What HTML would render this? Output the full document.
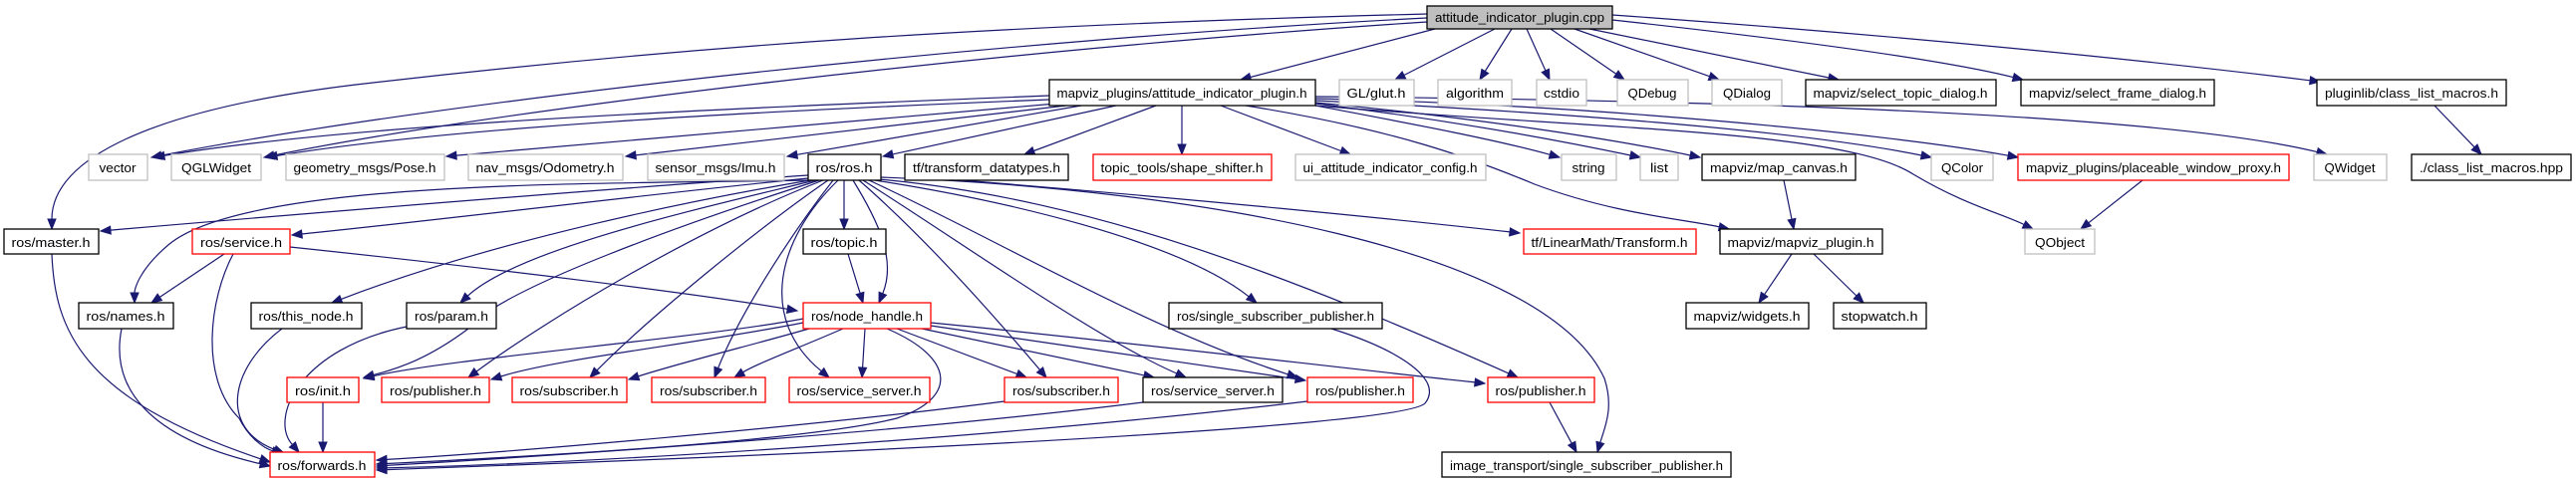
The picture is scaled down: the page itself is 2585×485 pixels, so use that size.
<!DOCTYPE html>
<html><head><meta charset="utf-8">
<style>
html,body{margin:0;padding:0;background:#fff;}
svg{display:block;}
text{font-family:"Liberation Sans",Arial,sans-serif;font-size:13px;fill:#000;}
</style></head>
<body>
<svg id="g" width="2585" height="485" viewBox="0 0 2585 485" xmlns="http://www.w3.org/2000/svg">
<g id="edges"></g>
<g id="nodes" stroke-width="1.3">
<!-- row0 -->
<rect x="1432" y="6" width="186" height="23" fill="#bfbfbf" stroke="#000"/><text x="1525" y="22" text-anchor="middle" textLength="170" lengthAdjust="spacingAndGlyphs">attitude_indicator_plugin.cpp</text>
<!-- row1 -->
<rect x="1053" y="80" width="267" height="26" fill="#fff" stroke="#000"/><text x="1186" y="98" text-anchor="middle" textLength="251" lengthAdjust="spacingAndGlyphs">mapviz_plugins/attitude_indicator_plugin.h</text>
<rect x="1344" y="80" width="75" height="26" fill="#fff" stroke="#bfbfbf"/><text x="1381" y="98" text-anchor="middle" textLength="59" lengthAdjust="spacingAndGlyphs">GL/glut.h</text>
<rect x="1443" y="80" width="74" height="26" fill="#fff" stroke="#bfbfbf"/><text x="1480" y="98" text-anchor="middle" textLength="58" lengthAdjust="spacingAndGlyphs">algorithm</text>
<rect x="1542" y="80" width="50" height="26" fill="#fff" stroke="#bfbfbf"/><text x="1567" y="98" text-anchor="middle" textLength="36" lengthAdjust="spacingAndGlyphs">cstdio</text>
<rect x="1623" y="80" width="71" height="26" fill="#fff" stroke="#bfbfbf"/><text x="1658" y="98" text-anchor="middle" textLength="49" lengthAdjust="spacingAndGlyphs">QDebug</text>
<rect x="1718" y="80" width="70" height="26" fill="#fff" stroke="#bfbfbf"/><text x="1753" y="98" text-anchor="middle" textLength="48" lengthAdjust="spacingAndGlyphs">QDialog</text>
<rect x="1812" y="80" width="191" height="26" fill="#fff" stroke="#000"/><text x="1907" y="98" text-anchor="middle" textLength="175" lengthAdjust="spacingAndGlyphs">mapviz/select_topic_dialog.h</text>
<rect x="2028" y="80" width="194" height="26" fill="#fff" stroke="#000"/><text x="2125" y="98" text-anchor="middle" textLength="178" lengthAdjust="spacingAndGlyphs">mapviz/select_frame_dialog.h</text>
<rect x="2325" y="80" width="190" height="26" fill="#fff" stroke="#000"/><text x="2420" y="98" text-anchor="middle" textLength="174" lengthAdjust="spacingAndGlyphs">pluginlib/class_list_macros.h</text>
<!-- row2 -->
<rect x="89" y="155" width="59" height="26" fill="#fff" stroke="#bfbfbf"/><text x="118" y="173" text-anchor="middle" textLength="37" lengthAdjust="spacingAndGlyphs">vector</text>
<rect x="172" y="155" width="90" height="26" fill="#fff" stroke="#bfbfbf"/><text x="217" y="173" text-anchor="middle" textLength="70" lengthAdjust="spacingAndGlyphs">QGLWidget</text>
<rect x="287" y="155" width="159" height="26" fill="#fff" stroke="#bfbfbf"/><text x="366" y="173" text-anchor="middle" textLength="143" lengthAdjust="spacingAndGlyphs">geometry_msgs/Pose.h</text>
<rect x="470" y="155" width="155" height="26" fill="#fff" stroke="#bfbfbf"/><text x="547" y="173" text-anchor="middle" textLength="139" lengthAdjust="spacingAndGlyphs">nav_msgs/Odometry.h</text>
<rect x="650" y="155" width="137" height="26" fill="#fff" stroke="#bfbfbf"/><text x="718" y="173" text-anchor="middle" textLength="121" lengthAdjust="spacingAndGlyphs">sensor_msgs/Imu.h</text>
<rect x="811" y="155" width="73" height="26" fill="#fff" stroke="#000"/><text x="847" y="173" text-anchor="middle" textLength="57" lengthAdjust="spacingAndGlyphs">ros/ros.h</text>
<rect x="908" y="155" width="164" height="26" fill="#fff" stroke="#000"/><text x="990" y="173" text-anchor="middle" textLength="148" lengthAdjust="spacingAndGlyphs">tf/transform_datatypes.h</text>
<rect x="1097" y="155" width="179" height="26" fill="#fff" stroke="#ff0000"/><text x="1186" y="173" text-anchor="middle" textLength="163" lengthAdjust="spacingAndGlyphs">topic_tools/shape_shifter.h</text>
<rect x="1300" y="155" width="191" height="26" fill="#fff" stroke="#bfbfbf"/><text x="1395" y="173" text-anchor="middle" textLength="175" lengthAdjust="spacingAndGlyphs">ui_attitude_indicator_config.h</text>
<rect x="1567" y="155" width="55" height="26" fill="#fff" stroke="#bfbfbf"/><text x="1594" y="173" text-anchor="middle" textLength="33" lengthAdjust="spacingAndGlyphs">string</text>
<rect x="1646" y="155" width="38" height="26" fill="#fff" stroke="#bfbfbf"/><text x="1665" y="173" text-anchor="middle" textLength="18" lengthAdjust="spacingAndGlyphs">list</text>
<rect x="1708" y="155" width="154" height="26" fill="#fff" stroke="#000"/><text x="1785" y="173" text-anchor="middle" textLength="138" lengthAdjust="spacingAndGlyphs">mapviz/map_canvas.h</text>
<rect x="1938" y="155" width="62" height="26" fill="#fff" stroke="#bfbfbf"/><text x="1969" y="173" text-anchor="middle" textLength="42" lengthAdjust="spacingAndGlyphs">QColor</text>
<rect x="2025" y="155" width="272" height="26" fill="#fff" stroke="#ff0000"/><text x="2161" y="173" text-anchor="middle" textLength="256" lengthAdjust="spacingAndGlyphs">mapviz_plugins/placeable_window_proxy.h</text>
<rect x="2322" y="155" width="73" height="26" fill="#fff" stroke="#bfbfbf"/><text x="2358" y="173" text-anchor="middle" textLength="51" lengthAdjust="spacingAndGlyphs">QWidget</text>
<rect x="2420" y="155" width="160" height="26" fill="#fff" stroke="#000"/><text x="2500" y="173" text-anchor="middle" textLength="144" lengthAdjust="spacingAndGlyphs">./class_list_macros.hpp</text>
<!-- row3 -->
<rect x="4" y="230" width="95" height="25" fill="#fff" stroke="#000"/><text x="51" y="248" text-anchor="middle" textLength="79" lengthAdjust="spacingAndGlyphs">ros/master.h</text>
<rect x="193" y="230" width="98" height="25" fill="#fff" stroke="#ff0000"/><text x="242" y="248" text-anchor="middle" textLength="82" lengthAdjust="spacingAndGlyphs">ros/service.h</text>
<rect x="806" y="230" width="83" height="25" fill="#fff" stroke="#000"/><text x="847" y="248" text-anchor="middle" textLength="67" lengthAdjust="spacingAndGlyphs">ros/topic.h</text>
<rect x="1529" y="230" width="173" height="25" fill="#fff" stroke="#ff0000"/><text x="1615" y="248" text-anchor="middle" textLength="157" lengthAdjust="spacingAndGlyphs">tf/LinearMath/Transform.h</text>
<rect x="1726" y="230" width="163" height="25" fill="#fff" stroke="#000"/><text x="1807" y="248" text-anchor="middle" textLength="147" lengthAdjust="spacingAndGlyphs">mapviz/mapviz_plugin.h</text>
<rect x="2032" y="230" width="70" height="25" fill="#fff" stroke="#bfbfbf"/><text x="2067" y="248" text-anchor="middle" textLength="50" lengthAdjust="spacingAndGlyphs">QObject</text>
<!-- row4 -->
<rect x="79" y="304" width="95" height="26" fill="#fff" stroke="#000"/><text x="126" y="322" text-anchor="middle" textLength="79" lengthAdjust="spacingAndGlyphs">ros/names.h</text>
<rect x="252" y="304" width="111" height="26" fill="#fff" stroke="#000"/><text x="307" y="322" text-anchor="middle" textLength="95" lengthAdjust="spacingAndGlyphs">ros/this_node.h</text>
<rect x="408" y="304" width="90" height="26" fill="#fff" stroke="#000"/><text x="453" y="322" text-anchor="middle" textLength="74" lengthAdjust="spacingAndGlyphs">ros/param.h</text>
<rect x="806" y="304" width="128" height="26" fill="#fff" stroke="#ff0000"/><text x="870" y="322" text-anchor="middle" textLength="112" lengthAdjust="spacingAndGlyphs">ros/node_handle.h</text>
<rect x="1173" y="304" width="214" height="26" fill="#fff" stroke="#000"/><text x="1280" y="322" text-anchor="middle" textLength="198" lengthAdjust="spacingAndGlyphs">ros/single_subscriber_publisher.h</text>
<rect x="1692" y="304" width="123" height="26" fill="#fff" stroke="#000"/><text x="1753" y="322" text-anchor="middle" textLength="107" lengthAdjust="spacingAndGlyphs">mapviz/widgets.h</text>
<rect x="1840" y="304" width="93" height="26" fill="#fff" stroke="#000"/><text x="1886" y="322" text-anchor="middle" textLength="77" lengthAdjust="spacingAndGlyphs">stopwatch.h</text>
<!-- row5 -->
<rect x="288" y="379" width="72" height="25" fill="#fff" stroke="#ff0000"/><text x="324" y="397" text-anchor="middle" textLength="56" lengthAdjust="spacingAndGlyphs">ros/init.h</text>
<rect x="383" y="379" width="108" height="25" fill="#fff" stroke="#ff0000"/><text x="437" y="397" text-anchor="middle" textLength="92" lengthAdjust="spacingAndGlyphs">ros/publisher.h</text>
<rect x="514" y="379" width="115" height="25" fill="#fff" stroke="#ff0000"/><text x="571" y="397" text-anchor="middle" textLength="99" lengthAdjust="spacingAndGlyphs">ros/subscriber.h</text>
<rect x="654" y="379" width="114" height="25" fill="#fff" stroke="#ff0000"/><text x="711" y="397" text-anchor="middle" textLength="98" lengthAdjust="spacingAndGlyphs">ros/subscriber.h</text>
<rect x="792" y="379" width="141" height="25" fill="#fff" stroke="#ff0000"/><text x="862" y="397" text-anchor="middle" textLength="125" lengthAdjust="spacingAndGlyphs">ros/service_server.h</text>
<rect x="1008" y="379" width="114" height="25" fill="#fff" stroke="#ff0000"/><text x="1065" y="397" text-anchor="middle" textLength="98" lengthAdjust="spacingAndGlyphs">ros/subscriber.h</text>
<rect x="1147" y="379" width="140" height="25" fill="#fff" stroke="#000"/><text x="1217" y="397" text-anchor="middle" textLength="124" lengthAdjust="spacingAndGlyphs">ros/service_server.h</text>
<rect x="1312" y="379" width="106" height="25" fill="#fff" stroke="#ff0000"/><text x="1365" y="397" text-anchor="middle" textLength="90" lengthAdjust="spacingAndGlyphs">ros/publisher.h</text>
<rect x="1493" y="379" width="107" height="25" fill="#fff" stroke="#ff0000"/><text x="1546" y="397" text-anchor="middle" textLength="91" lengthAdjust="spacingAndGlyphs">ros/publisher.h</text>
<!-- row6 -->
<rect x="271" y="454" width="105" height="25" fill="#fff" stroke="#ff0000"/><text x="323" y="472" text-anchor="middle" textLength="89" lengthAdjust="spacingAndGlyphs">ros/forwards.h</text>
<rect x="1447" y="454" width="290" height="25" fill="#fff" stroke="#000"/><text x="1592" y="472" text-anchor="middle" textLength="274" lengthAdjust="spacingAndGlyphs">image_transport/single_subscriber_publisher.h</text>
</g>
</svg>
<script>
(function(){
var E=[
// from cpp
"M1432,14 C1000,25 700,45 357,85 C150,110 52,160 52,230",
"M1432,18 C1000,40 450,100 152,158",
"M1432,22 C1000,50 500,110 265,158",
[1440,29,1245,80],[1500,29,1400,80],[1517,29,1485,80],[1532,29,1555,80],
[1556,29,1630,80],[1580,29,1725,80],[1595,29,1845,80],
"M1618,20 C1800,40 1950,60 2030,80",
"M1618,15 C1900,35 2150,60 2328,82",
// from mapviz_plugins h
"M1053,96 C700,110 350,125 155,158",
"M1053,100 C750,112 450,128 268,158",
[1060,104,448,157],[1070,106,628,157],[1085,106,790,157],[1120,106,886,157],
[1160,106,1028,155],[1186,106,1186,155],[1225,106,1355,155],
"M1320,106 C1420,125 1500,140 1565,158",
"M1320,104 C1450,120 1560,140 1646,158",
"M1320,103 C1480,118 1620,140 1706,158",
"M1320,101 C1550,112 1800,130 1938,158",
"M1320,99 C1600,105 1900,135 2025,158",
"M1320,97 C1650,100 2150,110 2335,155",
"M1320,106 C1600,130 1850,130 1920,175 C1970,205 2010,215 2040,230",
"M1250,106 C1400,130 1480,160 1540,185 C1620,215 1690,220 1735,230",
// from ros.h
"M811,176 C600,190 300,215 101,232",
"M811,179 C650,195 450,220 293,236",
"M811,181 C600,185 250,180 170,245 C140,270 135,290 135,304",
"M813,181 C700,200 500,240 333,304",
"M818,181 C700,210 520,250 462,304",
"M822,181 C700,220 500,290 470,330 C430,360 400,370 365,379",
"M826,181 C700,230 550,320 470,379",
"M831,181 C760,230 650,320 592,379",
"M836,181 C790,240 740,320 717,379",
"M841,181 C780,240 760,320 832,379",
[847,181,847,230],
"M856,181 C880,220 900,260 882,304",
"M862,181 C930,240 1000,320 1050,379",
"M866,181 C960,240 1100,340 1190,379",
"M872,181 C1000,240 1150,330 1302,379",
"M878,181 C1000,200 1180,240 1261,304",
"M882,180 C1100,200 1300,280 1523,379",
"M884,178 C1200,190 1550,250 1610,380 C1620,410 1610,430 1603,454",
"M965,181 C1200,200 1400,220 1525,234",
// service.h
[225,255,152,304],
"M234,255 C210,300 200,380 240,420 C250,440 265,450 283,456",
"M291,248 C500,270 700,295 800,312",
// to forwards
"M52,255 C55,330 80,400 271,464",
"M122,330 C110,390 150,440 271,468",
"M283,330 C230,370 220,430 285,455",
"M408,328 C300,350 270,420 300,454",
[324,404,324,454],
// topic, node_handle
[851,255,866,304],
"M806,320 C700,340 450,360 365,380",
"M806,324 C700,345 560,360 493,381",
"M812,330 C760,345 680,365 631,381",
"M846,330 C800,350 760,365 737,379",
[868,330,865,379],
[900,330,1030,379],
[925,330,1158,379],
"M934,327 C1050,345 1200,365 1310,382",
"M934,324 C1100,340 1350,370 1490,385",
"M890,330 C960,360 960,400 900,420 C800,445 500,460 378,466",
"M1008,403 C800,430 500,455 378,462",
"M1147,404 C900,435 550,458 378,468",
"M1312,403 C1000,440 600,465 378,470",
"M1336,330 C1400,350 1450,380 1430,405 C1410,425 1000,450 378,472",
[1555,404,1582,454],
[1790,181,1800,230],
[1798,255,1765,304],[1820,255,1870,304],
[2150,181,2088,230],
[2443,106,2490,155]
];
var g=document.getElementById('edges'),ns='http://www.w3.org/2000/svg',out='';
E.forEach(function(e){
 var d,cx,cy,ex,ey;
 if(typeof e==='string'){var n=e.match(/-?\d+(\.\d+)?/g).map(Number);ex=n[n.length-2];ey=n[n.length-1];cx=n[n.length-4];cy=n[n.length-3];d=e;}
 else{ex=e[2];ey=e[3];cx=e[0];cy=e[1];d='M'+e[0]+','+e[1]+' L'+ex+','+ey;}
 var dx=ex-cx,dy=ey-cy,L=Math.sqrt(dx*dx+dy*dy)||1;dx/=L;dy/=L;
 var bx=ex-dx*10,by=ey-dy*10;
 // replace end point with base
 var dd=d.replace(/(-?\d+(\.\d+)?),(-?\d+(\.\d+)?)\s*$/,bx.toFixed(1)+','+by.toFixed(1));
 out+='<path d="'+dd+'" fill="none" stroke="#191970" stroke-width="1.2"/>';
 var px=-dy*4,py=dx*4;
 out+='<polygon points="'+ex+','+ey+' '+(bx+px).toFixed(1)+','+(by+py).toFixed(1)+' '+(bx-px).toFixed(1)+','+(by-py).toFixed(1)+'" fill="#191970" stroke="#191970"/>';
});
g.innerHTML=out;
})();
</script>
</body></html>
